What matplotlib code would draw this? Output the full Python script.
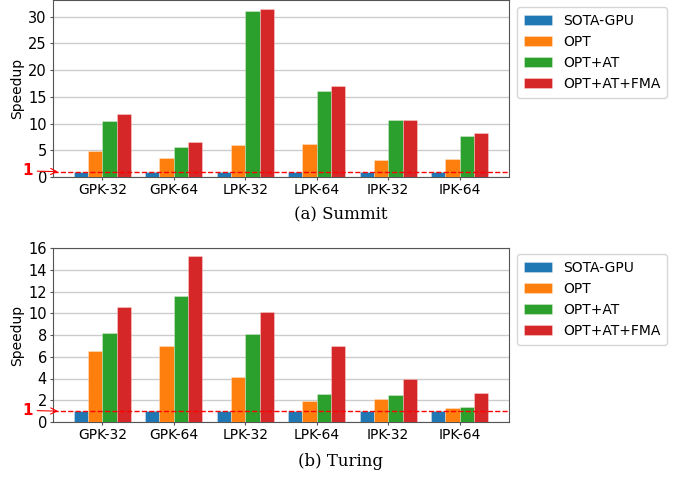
import numpy as np
import matplotlib
matplotlib.use("Agg")
import matplotlib.pyplot as plt

# data
kernels = ["GPK-32", "GPK-64", "LPK-32", "LPK-64", "IPK-32", "IPK-64"]
series = ["SOTA-GPU", "OPT", "OPT+AT", "OPT+AT+FMA"]
colors = ["#1f77b4", "#ff7f0e", "#2ca02c", "#d62728"]

summit_sota = [1.0, 1.0, 1.0, 1.0, 1.0, 1.0]
summit_opt = [4.9, 3.6, 5.9, 6.2, 3.2, 3.3]
summit_at = [10.5, 5.7, 31.0, 16.0, 10.6, 7.7]
summit_fma = [11.8, 6.5, 31.5, 17.1, 10.7, 8.2]

turing_sota = [1.0, 1.0, 1.0, 1.0, 1.0, 1.0]
turing_opt = [6.5, 7.0, 4.1, 1.9, 2.1, 1.3]
turing_at = [8.2, 11.6, 8.1, 2.6, 2.45, 1.35]
turing_fma = [10.6, 15.3, 10.1, 7.0, 4.0, 2.7]

W, H = 686, 478
fig = plt.figure(figsize=(W / 100, H / 100), dpi=100)


def panel(rect, data, ylim, yticks, caption, cap_y, leg_top):
    ax = fig.add_axes(rect)
    x = np.arange(len(kernels))
    width = 0.2
    for i, (vals, name, c) in enumerate(zip(data, series, colors)):
        ax.bar(x + (i - 1.5) * width, vals, width, color=c, label=name,
               edgecolor=(1, 1, 1, 0.35), linewidth=0.6, zorder=3)
    ax.set_xticks(x)
    ax.set_xticklabels(kernels, fontsize=10)
    ax.set_ylim(*ylim)
    ax.set_yticks(yticks)
    ax.tick_params(axis="y", labelsize=10.5)
    ax.tick_params(length=2.2, pad=2.2, color="#555555")
    ax.set_ylabel("Speedup", fontsize=10, labelpad=3)
    ax.grid(axis="y", color="#cccccc", linewidth=1.0, zorder=0)
    ax.set_axisbelow(True)
    for s in ax.spines.values():
        s.set_color("#555555")
    ax.axhline(1, color="red", linestyle="--", linewidth=1.0, zorder=4)
    xl = ax.get_xlim()
    ax.annotate("1", xy=(xl[0] + 0.07, 1), xycoords="data",
                xytext=(-18, 0.5), textcoords="offset points",
                color="red", fontsize=11, fontweight="bold",
                ha="right", va="center", annotation_clip=False,
                arrowprops=dict(arrowstyle="->", color="red", lw=0.8,
                                shrinkA=1, shrinkB=0))
    ax.legend(loc="upper left", bbox_to_anchor=(517 / W, leg_top),
              bbox_transform=fig.transFigure, fontsize=10, frameon=True,
              borderaxespad=0, borderpad=0.5)
    fig.text(0.497, cap_y, caption, ha="center", va="center",
             family="DejaVu Serif", fontsize=12)
    return ax


panel([53 / W, 1 - 177 / H, 456 / W, 177 / H],
      [summit_sota, summit_opt, summit_at, summit_fma],
      (0, 33.1), [0, 5, 10, 15, 20, 25, 30], "(a) Summit", 1 - 215 / H,
      1 - 7 / H)
panel([53 / W, 1 - 422 / H, 456 / W, 174 / H],
      [turing_sota, turing_opt, turing_at, turing_fma],
      (0, 16), [0, 2, 4, 6, 8, 10, 12, 14, 16], "(b) Turing", 1 - 461 / H,
      1 - 254 / H)

fig.savefig("out.png", dpi=100)
